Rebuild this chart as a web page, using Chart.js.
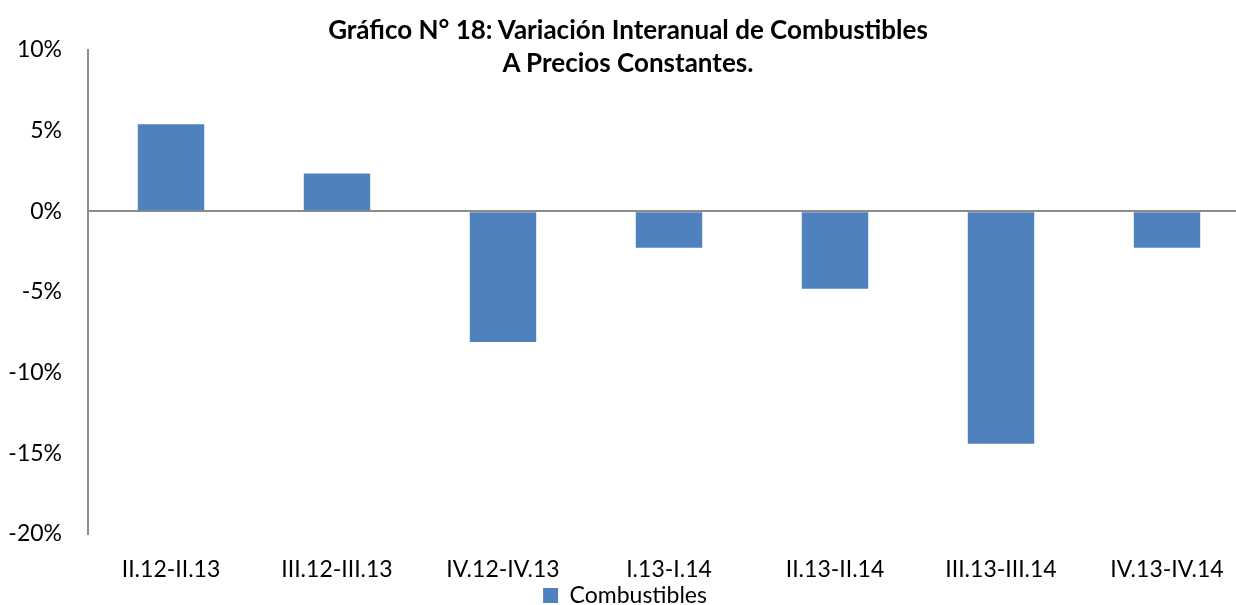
<!DOCTYPE html>
<html>
<head>
  <title>Gráfico N° 18</title>
  <style>
    body { margin: 0; overflow: hidden; background: #fff; }
    #wrap { position: relative; width: 1256px; height: 617px; }
    #title {
      position: absolute; left: 0; top: 13px; width: 1256px;
      text-align: center; font-family: Lato, sans-serif; font-weight: bold;
      font-size: 26px; line-height: 33px; color: #000;
    }
  </style>
</head>
<body>
  <div id="wrap">
    <canvas id="chart"></canvas>
    <div id="title">Gráfico N° 18: Variación Interanual de Combustibles<br>A Precios Constantes.</div>
  </div>

  <script src="https://cdn.jsdelivr.net/npm/chart.js"></script>
  <script>
    // periods and year-on-year change (%)
    const periods = ["II.12-II.13", "III.12-III.13", "IV.12-IV.13", "I.13-I.14", "II.13-II.14", "III.13-III.14", "IV.13-IV.14"];
    const combustibles = [5.4, 2.35, -8.1, -2.25, -4.8, -14.4, -2.25];
    const yTicks = [10, 5, 0, -5, -10, -15, -20];

    const font = { family: "Lato, sans-serif", size: 23 };

    const ctx = document.getElementById("chart").getContext("2d");
    new Chart(ctx, {
      type: "bar",
      data: {
        labels: periods,
        datasets: [{
          label: "Combustibles",
          data: combustibles,
          backgroundColor: "#4f81bd",
          borderWidth: 0,
          categoryPercentage: 1,
          barPercentage: 0.4
        }]
      },
      options: {
        responsive: true,
        maintainAspectRatio: false,
        animation: false,
        layout: { padding: { top: 50, right: 6, left: 0, bottom: 0 } },
        plugins: {
          title: { display: false },
          tooltip: { enabled: false },
          legend: {
            position: "bottom",
            labels: {
              boxWidth: 15, boxHeight: 15, padding: 2,
              color: "#000",
              font: font
            }
          }
        },
        scales: {
          x: {
            grid: { display: false, drawTicks: false },
            border: { display: false },
            afterFit: (axis) => { axis.height = 48; },
            ticks: { color: "#000", padding: 22, maxRotation: 0, autoSkip: false, font: font }
          },
          y: {
            min: -20, max: 10,
            afterBuildTicks: (axis) => { axis.ticks = yTicks.map(v => ({ value: v })); },
            afterFit: (axis) => { axis.width = 88; },
            grid: {
              drawTicks: false,
              lineWidth: 2,
              color: (c) => c.tick && c.tick.value === 0 ? "#8c8c8c" : "rgba(0,0,0,0)"
            },
            border: { display: true, color: "#8c8c8c", width: 2 },
            ticks: {
              color: "#000", padding: 26,
              font: font,
              callback: (v) => v + "%"
            }
          }
        }
      }
    });
  </script>
</body>
</html>
